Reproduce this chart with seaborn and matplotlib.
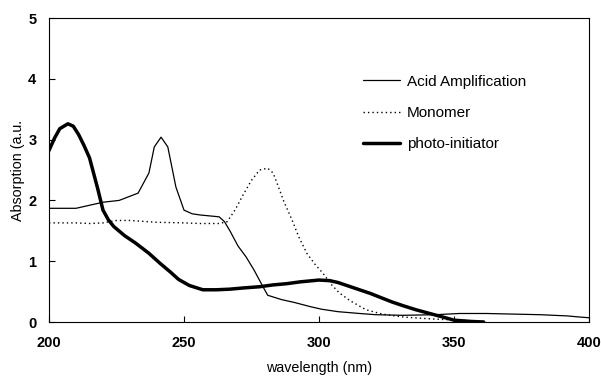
import matplotlib
matplotlib.use("Agg")
import matplotlib.pyplot as plt
import seaborn as sns
import pandas as pd

# Data
acid_x = [200, 205, 210, 215, 220, 226, 233, 237, 239, 241.5, 244, 247, 250, 253, 256, 263,
          265, 267, 270, 273, 276, 279, 281, 286, 291, 297, 301, 307, 315, 321, 331, 343, 352,
          362, 382, 392, 397, 400]
acid_y = [1.87, 1.87, 1.87, 1.92, 1.97, 2.0, 2.12, 2.45, 2.88, 3.04, 2.88, 2.22, 1.84, 1.78, 1.76, 1.73,
          1.65, 1.5, 1.25, 1.07, 0.85, 0.6, 0.44, 0.37, 0.32, 0.25, 0.21, 0.17, 0.14, 0.12, 0.11, 0.12, 0.14,
          0.14, 0.12, 0.1, 0.08, 0.07]

mono_x = [200, 210, 215, 220, 225, 230, 240, 250, 256, 263, 266, 269, 272, 275, 278, 281, 283, 285,
          287, 290, 292.5, 295.5, 298.5, 301.5, 304.5, 307.5, 311.5, 317.5, 323.5, 331.5, 342, 352, 362]
mono_y = [1.63, 1.63, 1.62, 1.63, 1.67, 1.67, 1.64, 1.63, 1.62, 1.62, 1.65, 1.85, 2.1, 2.33, 2.5, 2.53,
          2.45, 2.22, 1.98, 1.68, 1.4, 1.13, 0.95, 0.8, 0.62, 0.48, 0.35, 0.2, 0.13, 0.08, 0.05, 0.03, 0.01]

photo_x = [200, 202, 204, 207, 209, 211, 213, 215, 218, 220, 222, 224, 228, 232, 237, 241, 245, 248,
           252, 257, 262, 267, 272, 278, 283, 288, 293, 300, 304, 307, 311, 315, 319, 323, 327, 331,
           336, 341, 346, 350, 356, 361]
photo_y = [2.82, 3.02, 3.18, 3.26, 3.22, 3.08, 2.9, 2.7, 2.2, 1.84, 1.68, 1.57, 1.42, 1.3, 1.13, 0.97,
           0.82, 0.7, 0.6, 0.53, 0.53, 0.54, 0.56, 0.58, 0.61, 0.63, 0.66, 0.69, 0.68, 0.65, 0.59, 0.53,
           0.47, 0.4, 0.33, 0.27, 0.2, 0.14, 0.08, 0.03, 0.01, 0.0]

series_names = ["Acid Amplification", "Monomer", "photo-initiator"]
x_ticks = [200, 250, 300, 350, 400]
y_ticks = [0, 1, 2, 3, 4, 5]

sns.set_theme(style="white")
plt.rcParams["font.family"] = ["Liberation Sans", "DejaVu Sans"]
plt.rcParams["text.color"] = "black"
plt.rcParams["axes.labelcolor"] = "black"
plt.rcParams["xtick.color"] = "black"
plt.rcParams["ytick.color"] = "black"

fig = plt.figure(figsize=(6.01, 3.76), dpi=100)
ax = fig.add_axes([49 / 601, (376 - 322) / 376, (589 - 49) / 601, (322 - 18) / 376])

styles = [
    dict(color="black", linewidth=0.9, linestyle="-"),
    dict(color="black", linewidth=1.0, linestyle=(0, (1, 2.2))),
    dict(color="black", linewidth=2.5, linestyle="-"),
]
for name, xs, ys, st in zip(series_names, [acid_x, mono_x, photo_x], [acid_y, mono_y, photo_y], styles):
    df = pd.DataFrame({"wavelength": xs, "abs": ys})
    sns.lineplot(data=df, x="wavelength", y="abs", ax=ax, label=name, estimator=None, sort=False, **st)

ax.set_xlim(200, 400)
ax.set_ylim(0, 5)
ax.set_xticks(x_ticks)
ax.set_yticks(y_ticks)
ax.set_xticklabels([str(t) for t in x_ticks], fontsize=10.5, fontweight="bold")
ax.set_yticklabels([str(t) for t in y_ticks], fontsize=10.5, fontweight="bold")
ax.tick_params(axis="both", direction="in", length=4, width=0.8, color="black",
               labelcolor="black", bottom=True, left=True, top=False, right=False)
ax.tick_params(axis="x", pad=10)
ax.tick_params(axis="y", pad=9)
for s in ax.spines.values():
    s.set_color("black")
    s.set_linewidth(0.8)

ax.set_xlabel("wavelength (nm)", fontsize=10.3, labelpad=8, color="black")
ax.set_ylabel("Absorption (a.u.", fontsize=10.3, labelpad=2, color="black")

leg = ax.legend(loc="upper left", bbox_to_anchor=(0.570, 0.834), frameon=False, fontsize=11,
                handlelength=2.42, handletextpad=0.45, labelspacing=1.14, borderaxespad=0)
for t in leg.get_texts():
    t.set_color("black")

fig.savefig("out.png", dpi=100)
